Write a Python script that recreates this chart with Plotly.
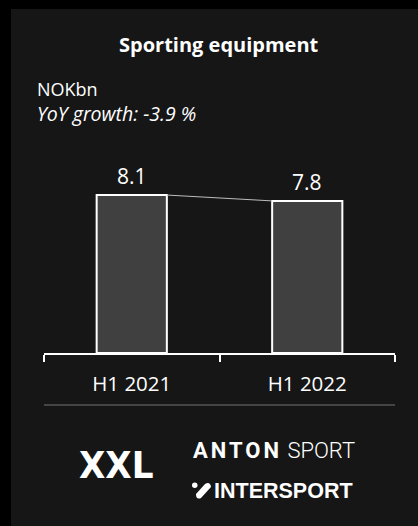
import plotly.graph_objects as go

# Sporting equipment revenue, NOK billions
periods = ["H1 2021", "H1 2022"]
revenue = [8.1, 7.8]
yoy_growth = "-3.9 %"

W, H = 418, 526
BAR_WIDTH = 0.4
FONT = "Open Sans"


def px(x):
    return x / W


def py(y):
    return 1 - y / H


fig = go.Figure()

fig.add_trace(go.Bar(
    x=list(range(len(periods))),
    y=revenue,
    width=BAR_WIDTH,
    marker=dict(color="#404040", line=dict(color="#ffffff", width=2)),
    hoverinfo="skip",
    showlegend=False,
))

# thin connector from the top-right corner of one bar to the top-left of the next
fig.add_trace(go.Scatter(
    x=[0 + BAR_WIDTH / 2, 1 - BAR_WIDTH / 2],
    y=[revenue[0], revenue[1]],
    mode="lines",
    line=dict(color="#bdbdbd", width=1),
    hoverinfo="skip",
    showlegend=False,
))

annotations = []
for i, v in enumerate(revenue):
    annotations.append(dict(
        x=i, y=v, xref="x", yref="y", text=f"{v:.1f}", showarrow=False,
        yanchor="bottom", yshift=3,
        font=dict(family=FONT, size=21, color="#ffffff"),
    ))

annotations += [
    dict(x=px(219), y=py(44), xref="paper", yref="paper", text="<b>Sporting equipment</b>",
         showarrow=False, xanchor="center", yanchor="middle",
         font=dict(family=FONT, size=20, color="#ffffff")),
    dict(x=px(35), y=py(89), xref="paper", yref="paper", text="NOKbn",
         showarrow=False, xanchor="left", yanchor="middle",
         font=dict(family=FONT, size=18, color="#ffffff")),
    dict(x=px(35), y=py(114), xref="paper", yref="paper", text=f"<i>YoY growth: {yoy_growth}</i>",
         showarrow=False, xanchor="left", yanchor="middle",
         font=dict(family=FONT, size=19.5, color="#ffffff")),
    # brand names
    dict(x=px(116), y=py(465), xref="paper", yref="paper", text="<b>XXL</b>",
         showarrow=False, xanchor="center", yanchor="middle",
         font=dict(family="DejaVu Sans Condensed", size=38, color="#ffffff")),
    dict(x=px(191), y=py(450), xref="paper", yref="paper",
         text="<b><span style='letter-spacing:3px'>ANTON</span></b><span style='font-weight:300'> SPORT</span>",
         showarrow=False, xanchor="left", yanchor="middle",
         font=dict(family="Roboto", size=22, color="#ffffff")),
    dict(x=px(212), y=py(491), xref="paper", yref="paper", text="<b>INTERSPORT</b>",
         showarrow=False, xanchor="left", yanchor="middle",
         font=dict(family="Liberation Sans", size=21.5, color="#ffffff")),
]

shapes = [
    # dark panel
    dict(type="rect", xref="paper", yref="paper", x0=px(11), x1=1, y0=0, y1=py(9),
         fillcolor="#161616", line=dict(width=0), layer="below"),
    # divider above the brand row
    dict(type="line", xref="paper", yref="paper", x0=px(44), x1=px(395), y0=py(405), y1=py(405),
         line=dict(color="#555555", width=1.5)),
    # intersport mark: dot and slanted stroke
    dict(type="circle", xref="paper", yref="paper", x0=px(192), x1=px(197.5), y0=py(488), y1=py(482.5),
         fillcolor="#ffffff", line=dict(width=0)),
    dict(type="path", xref="paper", yref="paper",
         path=(f"M {px(196)} {py(494)} L {px(205)} {py(484)} Q {px(210)} {py(481)} {px(211)} {py(487)} "
               f"L {px(201)} {py(498)} Q {px(196)} {py(500)} {px(196)} {py(494)} Z"),
         fillcolor="#ffffff", line=dict(width=0)),
]

fig.update_layout(
    width=W, height=H,
    margin=dict(l=0, r=0, t=0, b=0),
    paper_bgcolor="#000000",
    plot_bgcolor="rgba(0,0,0,0)",
    annotations=annotations,
    shapes=shapes,
    xaxis=dict(
        domain=[px(44), px(395)],
        range=[-0.5, len(periods) - 0.5],
        tickmode="array", tickvals=list(range(len(periods))), ticktext=periods,
        ticks="", ticklabelstandoff=11,
        minor=dict(tickmode="array", tickvals=[i - 0.5 for i in range(len(periods) + 1)],
                   ticks="outside", ticklen=7, tickwidth=2, tickcolor="#ffffff"),
        showline=True, linecolor="#ffffff", linewidth=2,
        showgrid=False, zeroline=False,
        tickfont=dict(family=FONT, size=20.5, color="#ffffff"),
        fixedrange=True,
    ),
    yaxis=dict(
        domain=[py(353), py(158)],
        range=[0, 10],
        visible=False, showgrid=False, zeroline=False,
        fixedrange=True,
    ),
)

fig.write_html("out.html")
